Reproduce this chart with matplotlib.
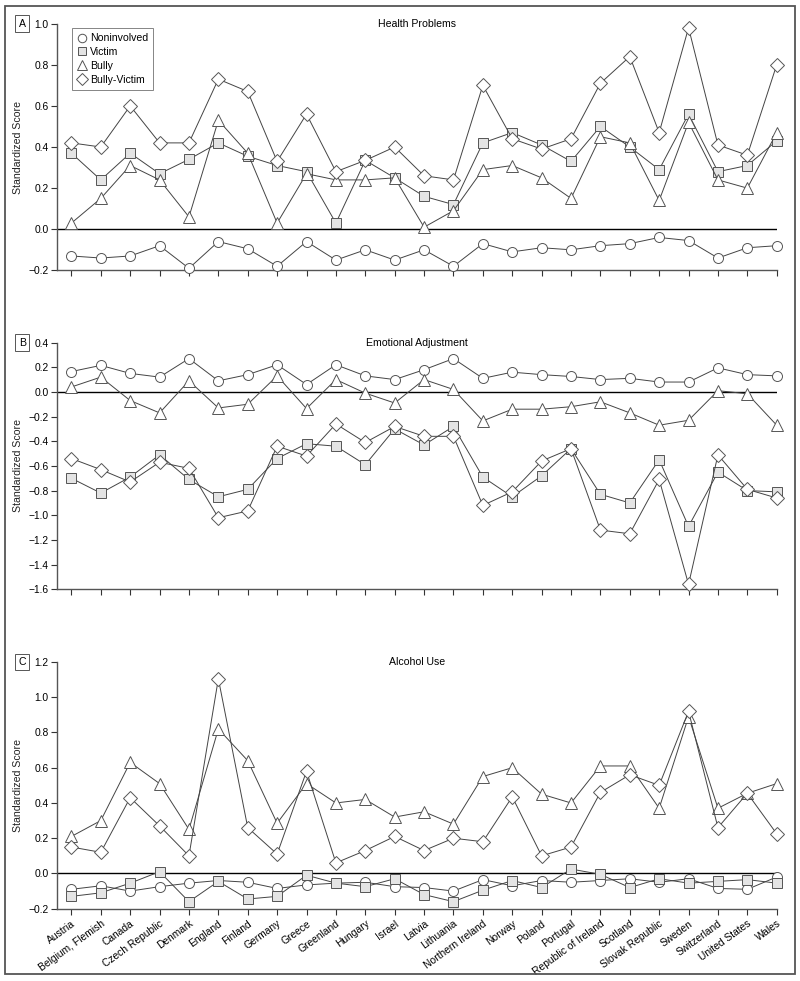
import matplotlib.pyplot as plt
from matplotlib.patches import Rectangle

plt.rcParams['font.family'] = ['Liberation Sans Narrow', 'Liberation Sans', 'DejaVu Sans']

countries = ['Austria', 'Belgium, Flemish', 'Canada', 'Czech Republic', 'Denmark', 'England',
             'Finland', 'Germany', 'Greece', 'Greenland', 'Hungary', 'Israel', 'Latvia',
             'Lithuania', 'Northern Ireland', 'Norway', 'Poland', 'Portugal',
             'Republic of Ireland', 'Scotland', 'Slovak Republic', 'Sweden', 'Switzerland',
             'United States', 'Wales']

# A. Health problems
health_noninvolved = [-0.13, -0.14, -0.13, -0.08, -0.19, -0.06, -0.095, -0.18, -0.06, -0.15,
                      -0.10, -0.15, -0.10, -0.18, -0.07, -0.11, -0.09, -0.10, -0.08, -0.07,
                      -0.04, -0.055, -0.14, -0.09, -0.08]
health_victim = [0.37, 0.24, 0.37, 0.27, 0.34, 0.42, 0.355, 0.31, 0.28, 0.03, 0.335, 0.25,
                 0.16, 0.12, 0.42, 0.47, 0.41, 0.33, 0.50, 0.40, 0.29, 0.56, 0.28, 0.31, 0.43]
health_bully = [0.03, 0.15, 0.31, 0.24, 0.06, 0.53, 0.37, 0.03, 0.27, 0.24, 0.24, 0.25,
                0.01, 0.09, 0.29, 0.31, 0.25, 0.15, 0.45, 0.42, 0.14, 0.52, 0.24, 0.20, 0.47]
health_bullyvictim = [0.42, 0.40, 0.60, 0.42, 0.42, 0.73, 0.67, 0.33, 0.56, 0.28, 0.335, 0.40,
                      0.26, 0.24, 0.70, 0.44, 0.39, 0.44, 0.71, 0.84, 0.47, 0.98, 0.41, 0.36, 0.80]

# B. Emotional adjustment
emo_noninvolved = [0.165, 0.215, 0.15, 0.12, 0.27, 0.09, 0.14, 0.22, 0.06, 0.22, 0.13, 0.10,
                   0.18, 0.27, 0.11, 0.16, 0.14, 0.125, 0.10, 0.11, 0.08, 0.08, 0.195, 0.14, 0.13]
emo_victim = [-0.70, -0.82, -0.69, -0.51, -0.71, -0.85, -0.79, -0.54, -0.42, -0.44, -0.59, -0.30,
              -0.43, -0.28, -0.69, -0.85, -0.68, -0.46, -0.83, -0.90, -0.55, -1.09, -0.65, -0.80, -0.81]
emo_bully = [0.04, 0.12, -0.07, -0.17, 0.09, -0.13, -0.10, 0.13, -0.135, 0.10, -0.01, -0.09,
             0.10, 0.02, -0.235, -0.14, -0.14, -0.12, -0.08, -0.17, -0.27, -0.23, 0.01, -0.015, -0.27]
emo_bullyvictim = [-0.54, -0.63, -0.73, -0.57, -0.62, -1.02, -0.965, -0.44, -0.52, -0.26, -0.41, -0.28,
                   -0.36, -0.36, -0.92, -0.81, -0.56, -0.46, -1.12, -1.15, -0.71, -1.56, -0.51, -0.79, -0.86]

# C. Alcohol use
alc_noninvolved = [-0.09, -0.07, -0.10, -0.075, -0.055, -0.04, -0.05, -0.085, -0.065, -0.055,
                   -0.05, -0.075, -0.08, -0.10, -0.035, -0.07, -0.04, -0.05, -0.04, -0.03,
                   -0.05, -0.03, -0.085, -0.09, -0.02]
alc_victim = [-0.13, -0.11, -0.055, 0.01, -0.16, -0.045, -0.145, -0.13, -0.01, -0.055, -0.075, -0.03,
              -0.12, -0.16, -0.095, -0.04, -0.08, 0.025, -0.005, -0.08, -0.03, -0.055, -0.045, -0.035, -0.055]
alc_bully = [0.21, 0.30, 0.63, 0.51, 0.25, 0.82, 0.64, 0.285, 0.51, 0.40, 0.42, 0.32,
             0.35, 0.28, 0.55, 0.60, 0.45, 0.40, 0.61, 0.61, 0.37, 0.89, 0.37, 0.455, 0.51]
alc_bullyvictim = [0.15, 0.12, 0.43, 0.27, 0.10, 1.105, 0.26, 0.11, 0.58, 0.06, 0.13, 0.21,
                   0.13, 0.20, 0.18, 0.435, 0.10, 0.15, 0.46, 0.56, 0.50, 0.92, 0.26, 0.455, 0.225]

groups = ['Noninvolved', 'Victim', 'Bully', 'Bully-Victim']
markers = ['o', 's', '^', 'D']
faces = ['white', '#e4e4e4', 'white', 'white']
sizes = [7.2, 6.6, 8.6, 7.4]

panels = [
    ('A', 'Health Problems', [health_noninvolved, health_victim, health_bully, health_bullyvictim],
     (-0.2, 1.0), [-0.2, 0.0, 0.2, 0.4, 0.6, 0.8, 1.0]),
    ('B', 'Emotional Adjustment', [emo_noninvolved, emo_victim, emo_bully, emo_bullyvictim],
     (-1.6, 0.4), [-1.6, -1.4, -1.2, -1.0, -0.8, -0.6, -0.4, -0.2, 0.0, 0.2, 0.4]),
    ('C', 'Alcohol Use', [alc_noninvolved, alc_victim, alc_bully, alc_bullyvictim],
     (-0.2, 1.2), [-0.2, 0.0, 0.2, 0.4, 0.6, 0.8, 1.0, 1.2]),
]
bottoms = [0.7244, 0.3993, 0.0737]

fig = plt.figure(figsize=(8, 9.81), dpi=100)
fig.patches.append(Rectangle((5 / 800, 1 - 974 / 981), 790 / 800, 968 / 981,
                             transform=fig.transFigure, fill=False,
                             edgecolor='#555555', linewidth=1.3))

x = list(range(len(countries)))
gray = '#555555'

for i, (letter, title, series, ylim, yticks) in enumerate(panels):
    ax = fig.add_axes([0.0709, bottoms[i], 0.9, 0.2515])
    for s, name, m, fc, ms in zip(series, groups, markers, faces, sizes):
        ax.plot(x, s, color='#444444', linewidth=0.7, marker=m, markersize=ms,
                markerfacecolor=fc, markeredgecolor='#555555', markeredgewidth=0.7,
                label=name, clip_on=False, zorder=3)
    ax.axhline(0, color='black', linewidth=1.0, zorder=2)
    ax.set_xlim(-0.5, 24)
    ax.set_ylim(*ylim)
    ax.set_yticks(yticks)
    ax.set_yticklabels(['\u2212%.1f' % abs(v) if v < 0 else '%.1f' % v for v in yticks])
    ax.set_xticks(x)
    if letter == 'C':
        ax.set_xticklabels(countries, rotation=36, ha='right', rotation_mode='anchor',
                           fontsize=6.8)
    else:
        ax.set_xticklabels([])
    ax.spines['top'].set_visible(False)
    ax.spines['right'].set_visible(False)
    for sp in ('left', 'bottom'):
        ax.spines[sp].set_color(gray)
        ax.spines[sp].set_linewidth(1.0)
    ax.tick_params(axis='both', direction='out', length=4, width=0.8, color='#333333',
                   labelsize=7.4, pad=2)
    ax.tick_params(axis='x', pad=3)
    ax.set_ylabel('Standardized Score', fontsize=7.6, color='#222222', labelpad=4)
    ax.text(0.5, 1.0, title, transform=ax.transAxes, ha='center', va='center', fontsize=7.6)
    ax.text(-0.048, 1.0, letter, transform=ax.transAxes, ha='center', va='center', fontsize=7.6,
            bbox=dict(boxstyle='square,pad=0.3', facecolor='white', edgecolor='#555555',
                      linewidth=0.7))
    if letter == 'A':
        leg = ax.legend(loc='upper left', bbox_to_anchor=(0.014, 1.003), fontsize=7.6,
                        frameon=True, fancybox=False, edgecolor='#666666', handlelength=0.8,
                        handletextpad=0.4, borderpad=0.5, labelspacing=0.35,
                        markerscale=0.85)
        leg.get_frame().set_linewidth(0.7)
        for h in leg.legend_handles:
            h.set_linestyle('none')

fig.savefig('out.png', dpi=100)
